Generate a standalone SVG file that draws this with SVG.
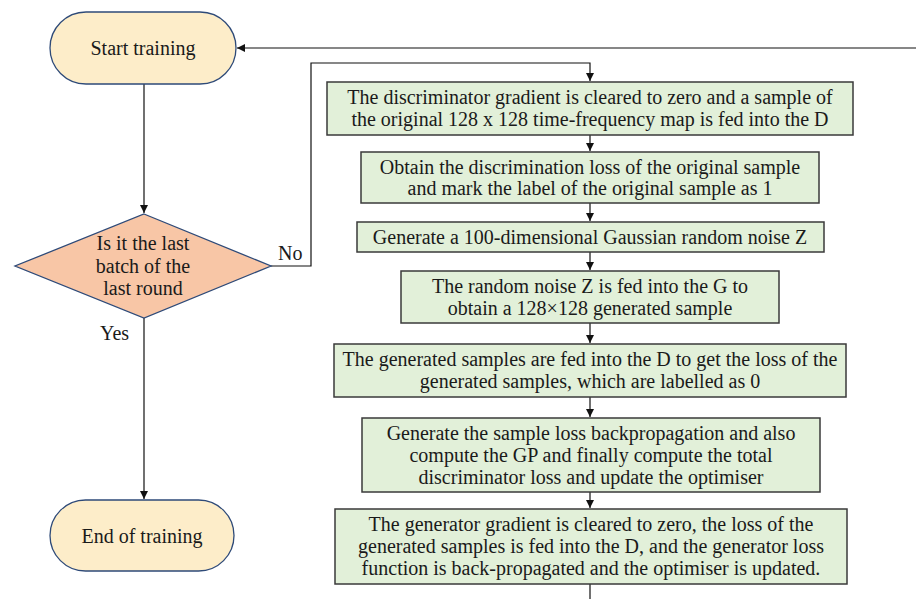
<svg xmlns="http://www.w3.org/2000/svg" width="916" height="599" viewBox="0 0 916 599">
  <style>
    text { font-family: "Liberation Serif", "DejaVu Serif", serif; font-size: 20px; fill: #1a1a1a; text-anchor: middle; }
    .terminal { fill: #FDEDC9; stroke: #2E4A78; stroke-width: 1.3; }
    .decision { fill: #F8C6A6; stroke: #2E4A78; stroke-width: 1.3; }
    .step { fill: #E2F0D9; stroke: #3A3A3A; stroke-width: 1.5; }
    .wire { fill: none; stroke: #111; stroke-width: 1.2; }
    .label { text-anchor: start; }
  </style>
  <defs>
    <marker id="arrow" viewBox="0 0 10 10" refX="10" refY="5" markerWidth="8" markerHeight="8" markerUnits="userSpaceOnUse" orient="auto">
      <path d="M0,0 L10,5 L0,10 z" fill="#111"/>
    </marker>
  </defs>

  <rect width="916" height="599" fill="#ffffff"/>

  <!-- connectors -->
  <g id="connectors">
    <path class="wire" d="M916,48 L237,48" marker-end="url(#arrow)"/>
    <path class="wire" d="M144,84 L144,213" marker-end="url(#arrow)"/>
    <path class="wire" d="M144,318 L144,499" marker-end="url(#arrow)"/>
    <path class="wire" d="M271,266 L311,266 L311,63 L590,63 L590,81" marker-end="url(#arrow)"/>
    <path class="wire" d="M590,135 L590,151" marker-end="url(#arrow)"/>
    <path class="wire" d="M590,203 L590,221" marker-end="url(#arrow)"/>
    <path class="wire" d="M590,252 L590,270" marker-end="url(#arrow)"/>
    <path class="wire" d="M590,323 L590,343" marker-end="url(#arrow)"/>
    <path class="wire" d="M590,397 L590,417" marker-end="url(#arrow)"/>
    <path class="wire" d="M590,492 L590,508" marker-end="url(#arrow)"/>
    <path class="wire" d="M590,584 L590,599"/>
    <text class="label" x="278" y="260">No</text>
    <text class="label" x="100" y="340">Yes</text>
  </g>

  <g id="start">
    <rect class="terminal" x="50" y="12" width="186" height="72" rx="36" ry="36"/>
    <text x="143" y="55">Start training</text>
  </g>

  <g id="decision">
    <polygon class="decision" points="144,214 271,266 144,318 15,266"/>
    <text x="143" y="250">Is it the last</text>
    <text x="143" y="273">batch of the</text>
    <text x="143" y="295">last round</text>
  </g>

  <g id="end">
    <rect class="terminal" x="50" y="500" width="184" height="71" rx="35.5" ry="35.5"/>
    <text x="142" y="543">End of training</text>
  </g>

  <g id="step1">
    <rect class="step" x="327" y="82" width="526" height="53"/>
    <text x="590" y="104">The discriminator gradient is cleared to zero and a sample of</text>
    <text x="590" y="126">the original 128 x 128 time-frequency map is fed into the D</text>
  </g>

  <g id="step2">
    <rect class="step" x="361" y="152" width="458" height="51"/>
    <text x="590" y="174">Obtain the discrimination loss of the original sample</text>
    <text x="590" y="195">and mark the label of the original sample as 1</text>
  </g>

  <g id="step3">
    <rect class="step" x="357" y="222" width="467" height="30"/>
    <text x="590" y="244">Generate a 100-dimensional Gaussian random noise Z</text>
  </g>

  <g id="step4">
    <rect class="step" x="401" y="271" width="378" height="52"/>
    <text x="590" y="293">The random noise Z is fed into the G to</text>
    <text x="590" y="315">obtain a 128×128 generated sample</text>
  </g>

  <g id="step5">
    <rect class="step" x="334" y="344" width="512" height="53"/>
    <text x="590" y="366">The generated samples are fed into the D to get the loss of the</text>
    <text x="590" y="388">generated samples, which are labelled as 0</text>
  </g>

  <g id="step6">
    <rect class="step" x="362" y="418" width="458" height="74"/>
    <text x="591" y="440">Generate the sample loss backpropagation and also</text>
    <text x="591" y="462">compute the GP and finally compute the total</text>
    <text x="591" y="484">discriminator loss and update the optimiser</text>
  </g>

  <g id="step7">
    <rect class="step" x="335" y="509" width="512" height="75"/>
    <text x="591" y="531">The generator gradient is cleared to zero, the loss of the</text>
    <text x="591" y="553">generated samples is fed into the D, and the generator loss</text>
    <text x="591" y="575">function is back-propagated and the optimiser is updated.</text>
  </g>
</svg>
